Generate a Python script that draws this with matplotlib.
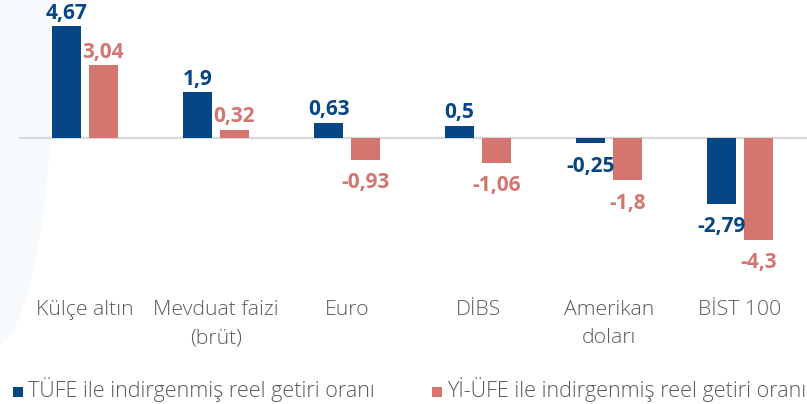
import matplotlib
matplotlib.use("Agg")
import matplotlib.pyplot as plt
from matplotlib.patches import Ellipse, Rectangle
import numpy as np

categories = ["Külçe altın", "Mevduat faizi\n(brüt)", "Euro", "DİBS", "Amerikan\ndoları", "BİST 100"]
tufe = [4.67, 1.9, 0.63, 0.5, -0.25, -2.79]
yiufe = [3.04, 0.32, -0.93, -1.06, -1.8, -4.3]
series_names = ["TÜFE ile indirgenmiş reel getiri oranı", "Yİ-ÜFE ile indirgenmiş reel getiri oranı"]
colors = ["#064685", "#d57570"]

plt.rcParams['font.family'] = ['Open Sans', 'DejaVu Sans']

W, H = 807, 404
fig = plt.figure(figsize=(W/100, H/100), dpi=100)

# faint background arc
bg = fig.add_axes([0, 0, 1, 1])
bg.set_xlim(0, W); bg.set_ylim(H, 0); bg.axis('off')
bg.add_patch(Ellipse((-5, 0), 2*61, 2*346, facecolor="#f7fafc", edgecolor="none"))

zero_y = 137.5
ppu = 23.8
ymin, ymax = -5.5, 5.5
top_px = zero_y - ymax*ppu
bot_px = zero_y - ymin*ppu
x0_px, x1_px = 19, 807
spacing = 131
c0 = 85
ax = fig.add_axes([x0_px/W, 1 - bot_px/H, (x1_px-x0_px)/W, (bot_px-top_px)/H])
ax.set_xlim((x0_px-c0)/spacing, (x1_px-c0)/spacing)
ax.set_ylim(ymin, ymax)
ax.patch.set_alpha(0)
for s in ax.spines.values():
    s.set_visible(False)
ax.set_xticks([]); ax.set_yticks([])
ax.axhline(0, color="#d9d9d9", lw=1.6, zorder=1)

x = np.arange(len(categories))
bw = 0.225
off = 0.14
b1 = ax.bar(x - off, tufe, bw, color=colors[0], zorder=2)
b2 = ax.bar(x + off, yiufe, bw, color=colors[1], zorder=2)

def fmt(v):
    return f"{v:g}".replace(".", ",")

for bars, vals, col in [(b1, tufe, colors[0]), (b2, yiufe, colors[1])]:
    for b, v in zip(bars, vals):
        cx = b.get_x() + b.get_width()/2
        dy = 5.5 if v >= 0 else -20.5
        ax.annotate(fmt(v), (cx, v), xytext=(0, dy), textcoords="offset points",
                    ha="center", va="baseline", color=col, fontsize=15, fontweight="bold")

for i, c in enumerate(categories):
    for j, line in enumerate(c.split("\n")):
        fig.text((c0 + i*spacing)/W, 1 - (315 + 28*j)/H, line, ha="center", va="baseline",
                 fontsize=15.3, color="#5a5a5a", fontweight="light")

# legend
leg_base = 397
for name, col, sx in zip(series_names, colors, [13, 432]):
    bg.add_patch(Rectangle((sx, leg_base-10), 10, 10, facecolor=col, edgecolor="none"))
    fig.text((sx + 15)/W, 1 - leg_base/H, name, ha="left", va="baseline",
             fontsize=15.5, color="#5a5a5a", fontweight="light")

fig.savefig("out.png", dpi=100)
